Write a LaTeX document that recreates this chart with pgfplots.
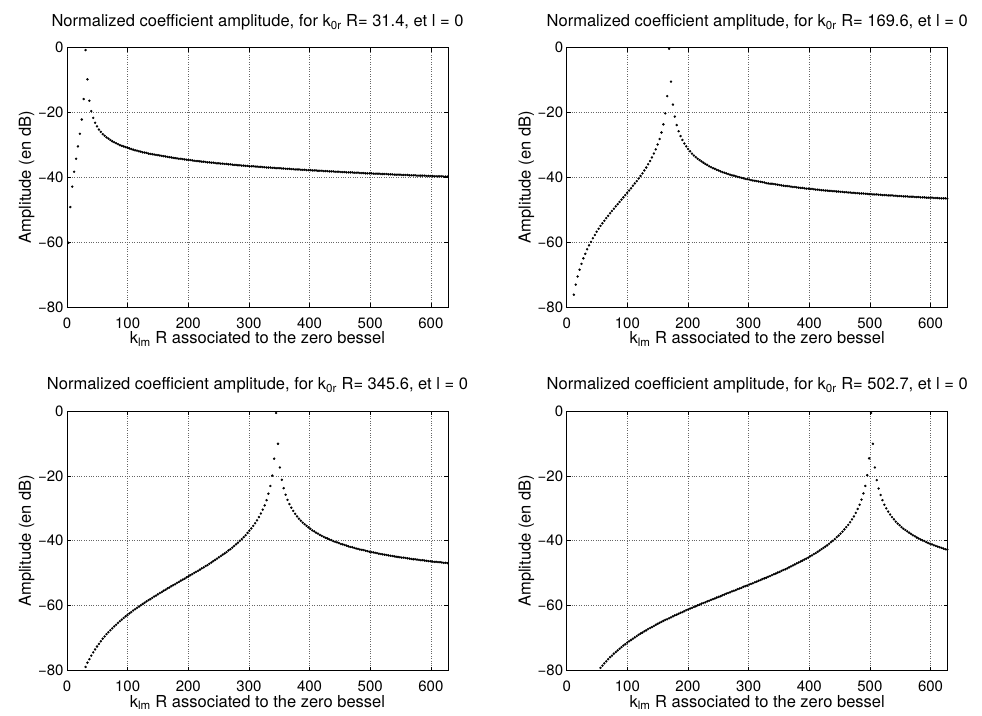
\documentclass[border=0pt]{standalone}
\usepackage{fontspec}
\setmainfont{TeX Gyre Heros}
\usepackage{pgfplots}
\usepackage{pgfplotstable}
\pgfplotsset{compat=1.18}

\pgfplotstableread{
x y1 y2 y3 y4
2.40 -60.2 nan nan nan
5.52 -49.2 nan nan nan
8.65 -42.9 nan nan nan
11.79 -38.3 -76.2 nan nan
14.93 -34.3 -73.1 nan nan
18.07 -30.5 -70.6 nan nan
21.21 -26.6 -68.5 nan nan
24.35 -22.2 -66.7 nan nan
27.49 -15.9 -65.0 nan nan
30.63 -0.8 -63.6 -78.9 nan
33.78 -9.8 -62.2 -77.6 nan
36.92 -16.4 -61.0 -76.5 nan
40.06 -19.6 -59.9 -75.4 nan
43.20 -21.7 -58.8 -74.4 nan
46.34 -23.2 -57.8 -73.5 nan
49.48 -24.3 -56.8 -72.6 nan
52.62 -25.3 -55.9 -71.8 nan
55.77 -26.0 -55.0 -71.0 -79.2
58.91 -26.7 -54.2 -70.2 -78.5
62.05 -27.2 -53.4 -69.5 -77.8
65.19 -27.7 -52.6 -68.8 -77.2
68.33 -28.1 -51.9 -68.2 -76.5
71.47 -28.5 -51.1 -67.6 -75.9
74.61 -28.9 -50.4 -67.0 -75.4
77.75 -29.2 -49.7 -66.4 -74.8
80.90 -29.5 -49.0 -65.9 -74.3
84.04 -29.8 -48.3 -65.3 -73.8
87.18 -30.1 -47.6 -64.8 -73.3
90.32 -30.3 -46.9 -64.3 -72.8
93.46 -30.5 -46.2 -63.8 -72.3
96.60 -30.7 -45.5 -63.3 -71.9
99.75 -30.9 -44.8 -62.9 -71.4
102.89 -31.1 -44.1 -62.4 -71.0
106.03 -31.3 -43.4 -62.0 -70.6
109.17 -31.5 -42.6 -61.5 -70.2
112.31 -31.7 -41.9 -61.1 -69.8
115.45 -31.8 -41.2 -60.7 -69.4
118.60 -32.0 -40.4 -60.3 -69.0
121.74 -32.1 -39.6 -59.9 -68.6
124.88 -32.3 -38.8 -59.5 -68.3
128.02 -32.4 -37.9 -59.1 -67.9
131.16 -32.5 -37.0 -58.7 -67.6
134.30 -32.7 -36.0 -58.3 -67.2
137.44 -32.8 -35.0 -58.0 -66.9
140.59 -32.9 -33.9 -57.6 -66.6
143.73 -33.0 -32.7 -57.2 -66.3
146.87 -33.1 -31.4 -56.9 -65.9
150.01 -33.2 -29.9 -56.5 -65.6
153.15 -33.3 -28.2 -56.1 -65.3
156.29 -33.4 -26.2 -55.8 -65.0
159.44 -33.5 -23.7 -55.4 -64.7
162.58 -33.6 -20.3 -55.1 -64.4
165.72 -33.7 -15.0 -54.7 -64.2
168.86 -33.8 -0.4 -54.4 -63.9
172.00 -33.9 -10.5 -54.0 -63.6
175.14 -34.0 -17.6 -53.7 -63.3
178.29 -34.1 -21.3 -53.4 -63.0
181.43 -34.2 -23.9 -53.0 -62.8
184.57 -34.3 -25.8 -52.7 -62.5
187.71 -34.3 -27.3 -52.3 -62.2
190.85 -34.4 -28.5 -52.0 -62.0
193.99 -34.5 -29.6 -51.7 -61.7
197.14 -34.6 -30.5 -51.3 -61.4
200.28 -34.7 -31.3 -51.0 -61.2
203.42 -34.7 -32.0 -50.6 -60.9
206.56 -34.8 -32.7 -50.3 -60.7
209.70 -34.9 -33.3 -49.9 -60.4
212.84 -35.0 -33.8 -49.6 -60.2
215.98 -35.0 -34.3 -49.3 -59.9
219.13 -35.1 -34.7 -48.9 -59.7
222.27 -35.2 -35.1 -48.5 -59.4
225.41 -35.2 -35.5 -48.2 -59.2
228.55 -35.3 -35.9 -47.8 -59.0
231.69 -35.4 -36.2 -47.5 -58.7
234.83 -35.4 -36.6 -47.1 -58.5
237.98 -35.5 -36.9 -46.7 -58.2
241.12 -35.5 -37.2 -46.3 -58.0
244.26 -35.6 -37.4 -45.9 -57.8
247.40 -35.7 -37.7 -45.5 -57.5
250.54 -35.7 -37.9 -45.1 -57.3
253.68 -35.8 -38.2 -44.7 -57.1
256.83 -35.8 -38.4 -44.3 -56.8
259.97 -35.9 -38.6 -43.9 -56.6
263.11 -35.9 -38.8 -43.5 -56.3
266.25 -36.0 -39.0 -43.0 -56.1
269.39 -36.0 -39.2 -42.6 -55.9
272.53 -36.1 -39.4 -42.1 -55.6
275.68 -36.2 -39.5 -41.6 -55.4
278.82 -36.2 -39.7 -41.1 -55.2
281.96 -36.3 -39.9 -40.6 -54.9
285.10 -36.3 -40.0 -40.0 -54.7
288.24 -36.4 -40.2 -39.5 -54.5
291.38 -36.4 -40.3 -38.9 -54.2
294.52 -36.5 -40.5 -38.3 -54.0
297.67 -36.5 -40.6 -37.6 -53.8
300.81 -36.6 -40.7 -36.9 -53.5
303.95 -36.6 -40.9 -36.2 -53.3
307.09 -36.6 -41.0 -35.4 -53.1
310.23 -36.7 -41.1 -34.6 -52.8
313.37 -36.7 -41.2 -33.7 -52.6
316.52 -36.8 -41.3 -32.7 -52.3
319.66 -36.8 -41.4 -31.6 -52.1
322.80 -36.9 -41.5 -30.4 -51.8
325.94 -36.9 -41.6 -29.1 -51.6
329.08 -37.0 -41.8 -27.5 -51.4
332.22 -37.0 -41.9 -25.5 -51.1
335.37 -37.0 -42.0 -23.1 -50.9
338.51 -37.1 -42.0 -19.9 -50.6
341.65 -37.1 -42.1 -14.7 -50.3
344.79 -37.2 -42.2 -0.6 -50.1
347.93 -37.2 -42.3 -10.1 -49.8
351.07 -37.2 -42.4 -17.4 -49.6
354.22 -37.3 -42.5 -21.2 -49.3
357.36 -37.3 -42.6 -23.8 -49.0
360.50 -37.4 -42.7 -25.8 -48.8
363.64 -37.4 -42.7 -27.4 -48.5
366.78 -37.4 -42.8 -28.7 -48.2
369.92 -37.5 -42.9 -29.8 -47.9
373.06 -37.5 -43.0 -30.8 -47.6
376.21 -37.6 -43.0 -31.7 -47.3
379.35 -37.6 -43.1 -32.5 -47.0
382.49 -37.6 -43.2 -33.2 -46.7
385.63 -37.7 -43.3 -33.8 -46.4
388.77 -37.7 -43.3 -34.4 -46.1
391.91 -37.7 -43.4 -34.9 -45.8
395.06 -37.8 -43.5 -35.4 -45.5
398.20 -37.8 -43.5 -35.9 -45.2
401.34 -37.8 -43.6 -36.3 -44.8
404.48 -37.9 -43.6 -36.8 -44.5
407.62 -37.9 -43.7 -37.1 -44.1
410.76 -37.9 -43.8 -37.5 -43.8
413.91 -38.0 -43.8 -37.8 -43.4
417.05 -38.0 -43.9 -38.2 -43.0
420.19 -38.0 -44.0 -38.5 -42.6
423.33 -38.1 -44.0 -38.8 -42.2
426.47 -38.1 -44.1 -39.1 -41.8
429.61 -38.1 -44.1 -39.3 -41.4
432.75 -38.2 -44.2 -39.6 -40.9
435.90 -38.2 -44.2 -39.8 -40.4
439.04 -38.2 -44.3 -40.1 -40.0
442.18 -38.3 -44.3 -40.3 -39.5
445.32 -38.3 -44.4 -40.5 -38.9
448.46 -38.3 -44.4 -40.7 -38.4
451.60 -38.4 -44.5 -41.0 -37.8
454.75 -38.4 -44.5 -41.1 -37.2
457.89 -38.4 -44.6 -41.3 -36.5
461.03 -38.5 -44.6 -41.5 -35.8
464.17 -38.5 -44.7 -41.7 -35.1
467.31 -38.5 -44.7 -41.9 -34.3
470.45 -38.5 -44.8 -42.0 -33.4
473.60 -38.6 -44.8 -42.2 -32.5
476.74 -38.6 -44.9 -42.4 -31.4
479.88 -38.6 -44.9 -42.5 -30.2
483.02 -38.7 -45.0 -42.7 -28.9
486.16 -38.7 -45.0 -42.8 -27.3
489.30 -38.7 -45.0 -42.9 -25.4
492.45 -38.8 -45.1 -43.1 -23.1
495.59 -38.8 -45.1 -43.2 -19.8
498.73 -38.8 -45.2 -43.4 -14.6
501.87 -38.8 -45.2 -43.5 -0.6
505.01 -38.9 -45.3 -43.6 -10.1
508.15 -38.9 -45.3 -43.7 -17.4
511.29 -38.9 -45.3 -43.8 -21.3
514.44 -38.9 -45.4 -44.0 -23.9
517.58 -39.0 -45.4 -44.1 -25.9
520.72 -39.0 -45.5 -44.2 -27.5
523.86 -39.0 -45.5 -44.3 -28.9
527.00 -39.0 -45.5 -44.4 -30.0
530.14 -39.1 -45.6 -44.5 -31.0
533.29 -39.1 -45.6 -44.6 -31.9
536.43 -39.1 -45.6 -44.7 -32.7
539.57 -39.2 -45.7 -44.8 -33.4
542.71 -39.2 -45.7 -44.9 -34.1
545.85 -39.2 -45.8 -45.0 -34.7
548.99 -39.2 -45.8 -45.1 -35.2
552.14 -39.3 -45.8 -45.2 -35.8
555.28 -39.3 -45.9 -45.2 -36.3
558.42 -39.3 -45.9 -45.3 -36.7
561.56 -39.3 -45.9 -45.4 -37.1
564.70 -39.4 -46.0 -45.5 -37.5
567.84 -39.4 -46.0 -45.6 -37.9
570.99 -39.4 -46.0 -45.7 -38.3
574.13 -39.4 -46.1 -45.7 -38.6
577.27 -39.5 -46.1 -45.8 -39.0
580.41 -39.5 -46.1 -45.9 -39.3
583.55 -39.5 -46.2 -46.0 -39.6
586.69 -39.5 -46.2 -46.0 -39.9
589.83 -39.5 -46.2 -46.1 -40.1
592.98 -39.6 -46.3 -46.2 -40.4
596.12 -39.6 -46.3 -46.3 -40.7
599.26 -39.6 -46.3 -46.3 -40.9
602.40 -39.6 -46.3 -46.4 -41.1
605.54 -39.7 -46.4 -46.5 -41.4
608.68 -39.7 -46.4 -46.5 -41.6
611.83 -39.7 -46.4 -46.6 -41.8
614.97 -39.7 -46.5 -46.6 -42.0
618.11 -39.7 -46.5 -46.7 -42.2
621.25 -39.8 -46.5 -46.8 -42.4
624.39 -39.8 -46.5 -46.8 -42.6
627.53 -39.8 -46.6 -46.9 -42.7
}\datatable

\pgfplotsset{
  panel/.style={
    scale only axis, width=381pt, height=259.5pt,
    anchor=north west,
    xmin=0, xmax=628.3, ymin=-80, ymax=0,
    xtick={0,100,200,300,400,500,600},
    xticklabels={0,100,200,300,400,500,600},
    ytick={-80,-60,-40,-20,0},
    yticklabels={−80,−60,−40,−20,0},
    grid=major,
    major grid style={dotted, black!60, line width=0.6pt},
    tick align=inside, major tick length=4pt,
    every tick/.style={black, line width=0.6pt},
    axis line style={black, line width=0.8pt},
    tick label style={font=\fontsize{15}{17}\selectfont},
    xticklabel style={anchor=base, yshift=-21pt},
    unbounded coords=discard,
    every axis title/.style={at={(axis description cs:0.5,1.081)}, anchor=base,
      font=\fontsize{16.5}{19}\selectfont},
    every axis x label/.style={at={(axis description cs:0.5,-0.141)}, anchor=base,
      font=\fontsize{16.5}{19}\selectfont},
    every axis y label/.style={at={(axis description cs:-0.0945,0.5)}, anchor=base,
      rotate=90, font=\fontsize{16.5}{19}\selectfont},
    xlabel={k\textsubscript{lm} R associated to the zero bessel},
    ylabel={Amplitude (en dB)},
  },
  dots/.style={only marks, mark=*, mark size=1pt, mark options={draw=none, fill=black}},
}

\begin{document}
\begin{tikzpicture}
\useasboundingbox (0,0) rectangle (982pt,-715pt);
\begin{axis}[panel, at={(67pt,-47.5pt)},
  title={Normalized coefficient amplitude, for k\textsubscript{0r} R= 31.4, et l = 0}]
\addplot[dots] table[x=x, y=y1] {\datatable};
\end{axis}
\begin{axis}[panel, at={(566.7pt,-47.5pt)},
  title={Normalized coefficient amplitude, for k\textsubscript{0r} R= 169.6, et l = 0}]
\addplot[dots] table[x=x, y=y2] {\datatable};
\end{axis}
\begin{axis}[panel, at={(67pt,-411pt)},
  title={Normalized coefficient amplitude, for k\textsubscript{0r} R= 345.6, et l = 0}]
\addplot[dots] table[x=x, y=y3] {\datatable};
\end{axis}
\begin{axis}[panel, at={(566.7pt,-411pt)},
  title={Normalized coefficient amplitude, for k\textsubscript{0r} R= 502.7, et l = 0}]
\addplot[dots] table[x=x, y=y4] {\datatable};
\end{axis}
\end{tikzpicture}
\end{document}
